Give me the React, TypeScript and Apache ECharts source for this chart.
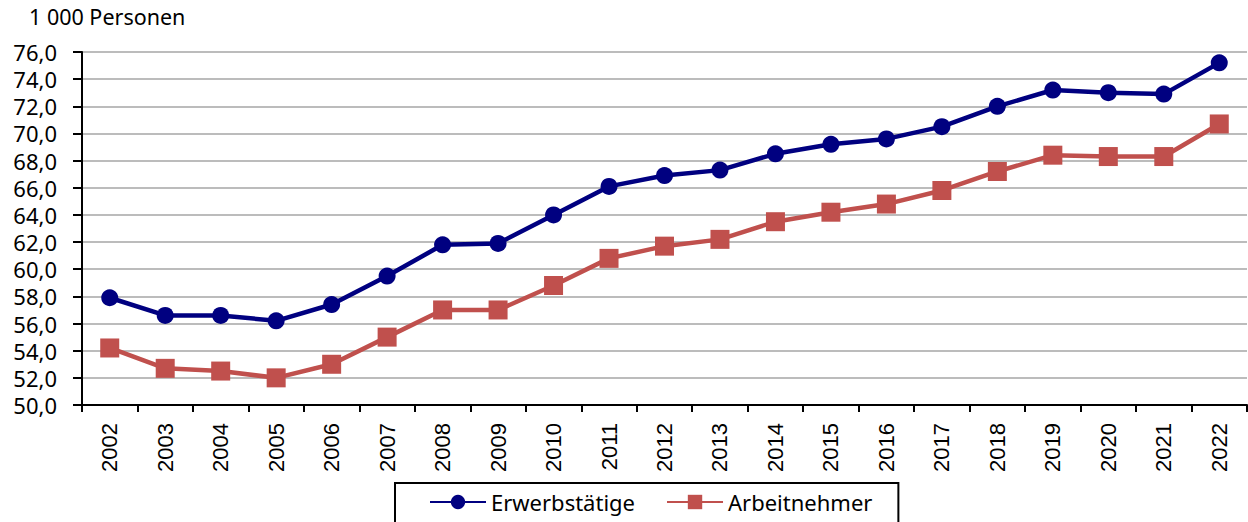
import React, { useEffect, useRef } from "react";
import * as echarts from "echarts";

const years = ["2002","2003","2004","2005","2006","2007","2008","2009","2010","2011","2012","2013","2014","2015","2016","2017","2018","2019","2020","2021","2022"];
const erwerbstaetige = [57.9,56.6,56.6,56.2,57.4,59.5,61.8,61.9,64.0,66.1,66.9,67.3,68.5,69.2,69.6,70.5,72.0,73.2,73.0,72.9,75.2];
const arbeitnehmer = [54.2,52.7,52.5,52.0,53.0,55.0,57.0,57.0,58.8,60.8,61.7,62.2,63.5,64.2,64.8,65.8,67.2,68.4,68.3,68.3,70.7];
const unitLabel = "1 000 Personen";

export default function App() {
  const ref = useRef<HTMLDivElement>(null);
  useEffect(() => {
    document.body.style.margin = "0";
    const chart = echarts.init(ref.current!, null, { renderer: "svg" });
    const yFont = "'Noto Sans', sans-serif";
    chart.setOption({
      animation: false,
      backgroundColor: "#ffffff",
      grid: { left: 82, right: 1, top: 52, bottom: 117, containLabel: false },
      graphic: [
        { type: "text", left: 29, top: 5, style: { text: unitLabel, fontSize: 21.5, fontFamily: yFont, fill: "#000" } },
      ],
      legend: {
        left: 395,
        top: 483,
        padding: [8, 26, 20, 34],
        itemGap: 31,
        itemWidth: 56,
        itemHeight: 18,
        borderColor: "#000",
        borderWidth: 2,
        textStyle: { fontSize: 22, fontFamily: yFont, color: "#000" },
        data: ["Erwerbstätige", "Arbeitnehmer"],
      },
      xAxis: {
        type: "category",
        data: years,
        boundaryGap: true,
        axisLine: { lineStyle: { color: "#000", width: 2 } },
        axisTick: { show: true, length: 7, lineStyle: { color: "#000", width: 2 } },
        axisLabel: { rotate: 90, margin: 18, fontSize: 22, fontFamily: "'Liberation Sans', Arial, sans-serif", color: "#000" },
        splitLine: { show: false },
      },
      yAxis: {
        type: "value",
        min: 50,
        max: 76,
        interval: 2,
        axisLine: { show: true, lineStyle: { color: "#000", width: 2 } },
        axisTick: { show: true, length: 9, lineStyle: { color: "#000", width: 2 } },
        axisLabel: {
          margin: 25,
          fontSize: 22,
          fontFamily: yFont,
          color: "#000",
          formatter: (v: number) => v.toFixed(1).replace(".", ","),
        },
        splitLine: { show: true, lineStyle: { color: "#a6a6a6", width: 1.5 } },
      },
      series: [
        {
          name: "Erwerbstätige",
          type: "line",
          data: erwerbstaetige,
          symbol: "circle",
          symbolSize: 17,
          lineStyle: { color: "#000080", width: 4.5 },
          itemStyle: { color: "#000080" },
        },
        {
          name: "Arbeitnehmer",
          type: "line",
          data: arbeitnehmer,
          symbol: "rect",
          symbolSize: 19,
          lineStyle: { color: "#c0504d", width: 4.5 },
          itemStyle: { color: "#c0504d" },
        },
      ],
    });
    return () => chart.dispose();
  }, []);
  return <div ref={ref} style={{ width: 1248, height: 522 }} />;
}
